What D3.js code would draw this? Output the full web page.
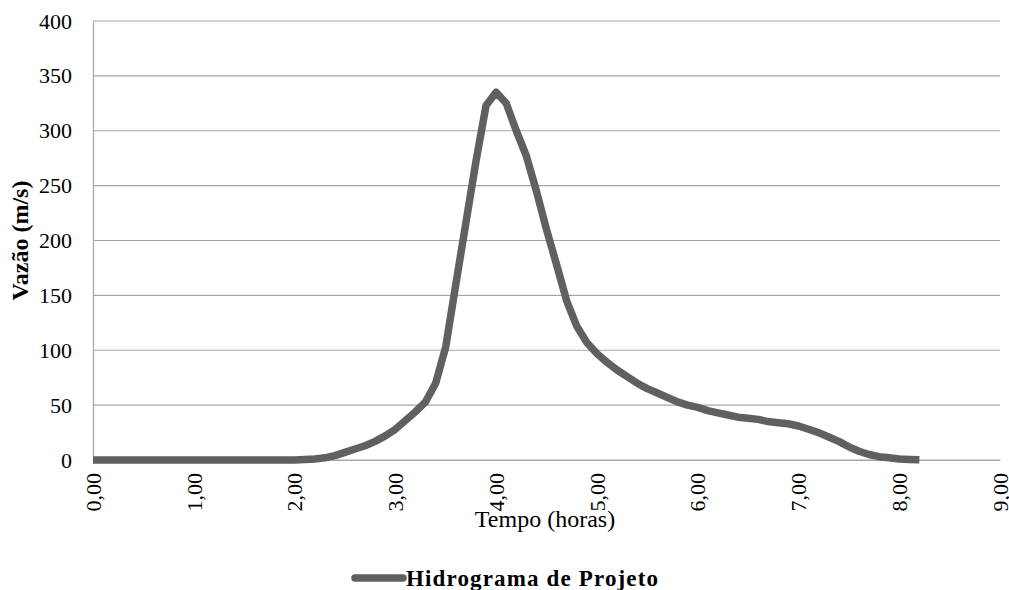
<!DOCTYPE html>
<html>
<head>
<meta charset="utf-8">
<script src="https://cdn.jsdelivr.net/npm/d3@7"></script>
<style>
  body { margin: 0; background: #fff; }
</style>
</head>
<body>
<svg id="chart"></svg>
<script>
// horas (passo de 0,1 h)
var tempo = d3.range(0, 83).map(function(i){ return i / 10 })
var vazao = [
  0, 0, 0, 0, 0, 0, 0, 0, 0, 0,          // 0,0 - 0,9
  0, 0, 0, 0, 0, 0, 0, 0, 0, 0,          // 1,0 - 1,9
  0, 0.5, 1, 2, 4, 7, 10, 13, 17, 22,    // 2,0 - 2,9
  28, 36, 44, 53, 70, 103, 160, 216, 272, 323, // 3,0 - 3,9
  335, 325, 300, 277, 245, 210, 178, 145, 122, 107, // 4,0 - 4,9
  97, 89, 82, 76, 70, 65, 61, 57, 53, 50, // 5,0 - 5,9
  48, 45, 43, 41, 39, 38, 37, 35, 34, 33, // 6,0 - 6,9
  31, 28, 25, 21, 17, 12, 8, 5, 3, 2,    // 7,0 - 7,9
  1, 0.5, 0.2                            // 8,0 - 8,2
]
var xTicks = [0, 1, 2, 3, 4, 5, 6, 7, 8, 9]
var yTicks = [0, 50, 100, 150, 200, 250, 300, 350, 400]
var serieNome = "Hidrograma de Projeto"

var fonte = "'Liberation Serif'"

var dimensions = {
    width: 1009,
    height: 590,
    margin: { top: 21, bottom: 130, right: 9, left: 93 }
}

var svg = d3.select("#chart")
            .attr("width", dimensions.width)
            .attr("height", dimensions.height)

var xScale = d3.scaleLinear()
               .domain([0, 9])
               .range([dimensions.margin.left, dimensions.width - dimensions.margin.right])

var yScale = d3.scaleLinear()
               .domain([0, 400])
               .range([dimensions.height - dimensions.margin.bottom, dimensions.margin.top])

// grid
svg.append("g")
   .selectAll("line")
   .data(yTicks)
   .enter()
   .append("line")
   .attr("x1", xScale(0))
   .attr("x2", xScale(9))
   .attr("y1", d => yScale(d))
   .attr("y2", d => yScale(d))
   .attr("stroke", "#a6a6a6")
   .attr("stroke-width", 1.2)

// eixo y
var yAxisGen = d3.axisLeft(yScale).tickValues(yTicks).tickSize(0).tickPadding(21)
var yAxis = svg.append("g")
               .attr("transform", `translate(${dimensions.margin.left},0)`)
               .call(yAxisGen)
yAxis.attr("font-family", null)
yAxis.select(".domain").attr("stroke", "#a6a6a6").attr("stroke-width", 1.2)
yAxis.selectAll("text")
     .style("font-family", fonte)
     .style("font-size", "22px")
     .attr("fill", "#000")

// eixo x
var fmt = d => d.toFixed(2).replace(".", ",")
var xAxisGen = d3.axisBottom(xScale).tickValues(xTicks).tickSize(0).tickFormat(fmt)
var xAxis = svg.append("g")
               .attr("transform", `translate(0,${yScale(0)})`)
               .call(xAxisGen)
xAxis.attr("font-family", null)
xAxis.select(".domain").attr("stroke", "#a6a6a6").attr("stroke-width", 1.2)
xAxis.selectAll("text")
     .style("font-family", fonte)
     .style("font-size", "22px")
     .attr("fill", "#000")
     .attr("text-anchor", "end")
     .attr("transform", "rotate(-90)")
     .attr("x", -13)
     .attr("y", 0)
     .attr("dy", "0.33em")

// linha
var line = d3.line()
             .x((d, i) => xScale(tempo[i]))
             .y(d => yScale(d))

svg.append("path")
   .datum(vazao)
   .attr("d", line)
   .attr("fill", "none")
   .attr("stroke", "#606060")
   .attr("stroke-width", 7.5)
   .attr("stroke-linejoin", "round")

// titulos
svg.append("text")
   .attr("x", 545)
   .attr("y", 527)
   .attr("text-anchor", "middle")
   .style("font-family", fonte)
   .style("font-size", "24px")
   .text("Tempo (horas)")

svg.append("text")
   .attr("transform", `translate(28,${yScale(200)}) rotate(-90)`)
   .attr("text-anchor", "middle")
   .style("font-family", fonte)
   .style("font-size", "24px")
   .style("font-weight", "bold")
   .text("Vazão (m/s)")

// legenda
var legend = svg.append("g").attr("transform", "translate(355,578)")
legend.append("line")
      .attr("x1", 0).attr("x2", 48)
      .attr("y1", 0).attr("y2", 0)
      .attr("stroke", "#606060")
      .attr("stroke-width", 7.5)
      .attr("stroke-linecap", "round")
legend.append("text")
      .attr("x", 51)
      .attr("y", 8)
      .attr("textLength", 252)
      .attr("lengthAdjust", "spacing")
      .style("font-family", fonte)
      .style("font-size", "23px")
      .style("font-weight", "bold")
      .text(serieNome)
</script>
</body>
</html>
